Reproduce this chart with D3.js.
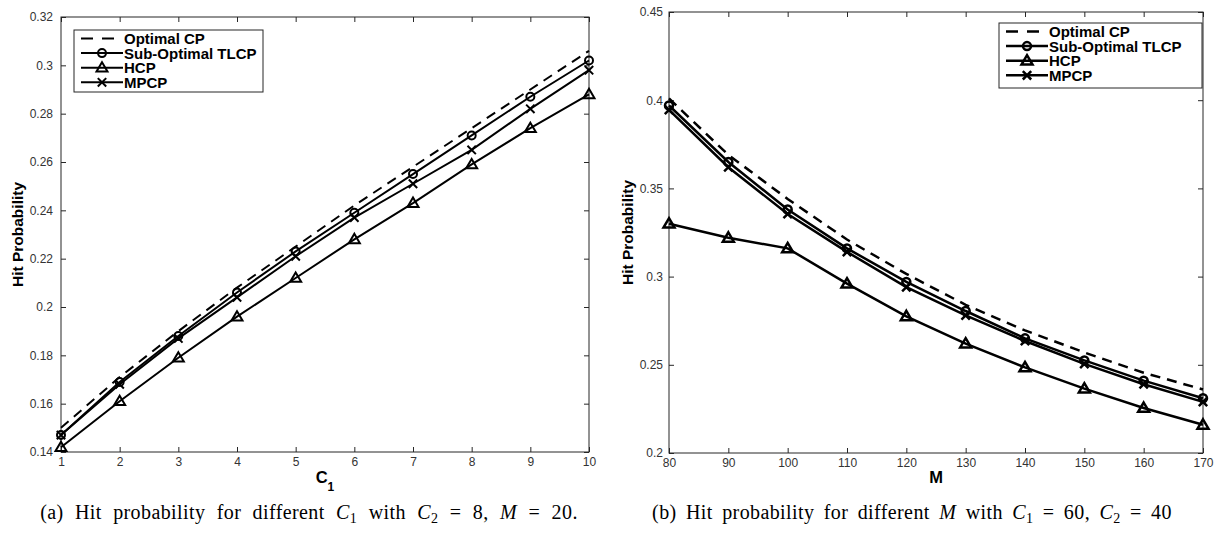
<!DOCTYPE html>
<html>
<head>
<meta charset="utf-8">
<script src="https://cdn.jsdelivr.net/npm/d3@7"></script>
<style>
  body { margin: 0; background: #fff; }
  svg { display: block; }
  .tick text { font-family: "Liberation Sans", Arial, sans-serif; font-size: 12px; fill: #333; }
  .tick line { stroke: #262626; }
  .lab { font-family: "Liberation Sans", Arial, sans-serif; font-weight: bold; fill: #000; }
  .cap { font-family: "Liberation Serif", "Times New Roman", serif; font-size: 20px; fill: #000; letter-spacing: 0.4px; }
</style>
</head>
<body>
<script>
// series names
var seriesNames = ["Optimal CP", "Sub-Optimal TLCP", "HCP", "MPCP"];

// panel (a): C1 = 1..10
var c1Values = [1, 2, 3, 4, 5, 6, 7, 8, 9, 10];
var optimalA = [0.150, 0.171, 0.190, 0.208, 0.225, 0.242, 0.258, 0.274, 0.290, 0.306];
var subOptA  = [0.147, 0.169, 0.188, 0.206, 0.223, 0.239, 0.255, 0.271, 0.287, 0.302];
var hcpA     = [0.142, 0.161, 0.179, 0.196, 0.212, 0.228, 0.243, 0.259, 0.274, 0.288];
var mpcpA    = [0.147, 0.168, 0.187, 0.204, 0.221, 0.237, 0.251, 0.265, 0.282, 0.298];
var yTicksA  = [0.14, 0.16, 0.18, 0.2, 0.22, 0.24, 0.26, 0.28, 0.3, 0.32];

// panel (b): M = 80..170
var mValues  = [80, 90, 100, 110, 120, 130, 140, 150, 160, 170];
var optimalB = [0.401, 0.369, 0.344, 0.321, 0.3015, 0.284, 0.2695, 0.257, 0.2455, 0.236];
var subOptB  = [0.397, 0.365, 0.338, 0.316, 0.297, 0.2805, 0.265, 0.2525, 0.241, 0.231];
var hcpB     = [0.330, 0.322, 0.316, 0.296, 0.2775, 0.262, 0.2485, 0.2365, 0.2255, 0.216];
var mpcpB    = [0.3945, 0.362, 0.3355, 0.314, 0.294, 0.278, 0.2635, 0.2505, 0.239, 0.229];
var yTicksB  = [0.2, 0.25, 0.3, 0.35, 0.4, 0.45];

var svg = d3.select("body").append("svg")
    .attr("width", 1216)
    .attr("height", 533);

var markers = ["none", "circle", "triangle", "cross"];

function drawMarker(g, kind, cx, cy, lw) {
    if (kind == "circle") {
        g.append("circle").attr("cx", cx).attr("cy", cy).attr("r", 4)
            .attr("fill", "none").attr("stroke", "#000").attr("stroke-width", lw);
    } else if (kind == "triangle") {
        var s = 5.5;
        g.append("path")
            .attr("d", "M" + cx + "," + (cy - s) + "L" + (cx + s) + "," + (cy + s * 0.7) + "L" + (cx - s) + "," + (cy + s * 0.7) + "Z")
            .attr("fill", "none").attr("stroke", "#000").attr("stroke-width", lw);
    } else if (kind == "cross") {
        var c = 4.2;
        g.append("path")
            .attr("d", "M" + (cx - c) + "," + (cy - c) + "L" + (cx + c) + "," + (cy + c) + "M" + (cx - c) + "," + (cy + c) + "L" + (cx + c) + "," + (cy - c))
            .attr("fill", "none").attr("stroke", "#000").attr("stroke-width", lw);
    }
}

function drawPanel(p) {
    var x = d3.scaleLinear().domain(p.xDomain).range([p.left, p.right]);
    var y = d3.scaleLinear().domain(p.yDomain).range([p.bottom, p.top]);
    var g = svg.append("g");

    // ticks on all four sides, pointing in (MATLAB box)
    g.append("g").attr("transform", "translate(0," + p.bottom + ")")
        .call(d3.axisBottom(x).tickValues(p.xs).tickSize(-5).tickPadding(5).tickFormat(d3.format("d")))
        .call(a => a.select(".domain").remove());
    g.append("g").attr("transform", "translate(0," + p.top + ")")
        .call(d3.axisTop(x).tickValues(p.xs).tickSize(-5).tickFormat(""))
        .call(a => a.select(".domain").remove());
    g.append("g").attr("transform", "translate(" + p.left + ",0)")
        .call(d3.axisLeft(y).tickValues(p.yTicks).tickSize(-5).tickPadding(p.yPad).tickFormat(d => String(+d.toFixed(2))))
        .call(a => a.select(".domain").remove());
    g.append("g").attr("transform", "translate(" + p.right + ",0)")
        .call(d3.axisRight(y).tickValues(p.yTicks).tickSize(-5).tickFormat(""))
        .call(a => a.select(".domain").remove());

    g.append("rect")
        .attr("x", p.left).attr("y", p.top)
        .attr("width", p.right - p.left).attr("height", p.bottom - p.top)
        .attr("fill", "none").attr("stroke", "#262626").attr("stroke-width", 1);

    var line = d3.line().x((d, i) => x(p.xs[i])).y(d => y(d));
    p.series.forEach(function (s, k) {
        g.append("path").datum(s)
            .attr("d", line)
            .attr("fill", "none")
            .attr("stroke", "#000")
            .attr("stroke-width", p.lw)
            .attr("stroke-dasharray", k == 0 ? "10,7" : null);
        if (markers[k] != "none") {
            s.forEach(function (v, i) { drawMarker(g, markers[k], x(p.xs[i]), y(v), p.lw); });
        }
    });

    // legend
    var lg = p.legend;
    g.append("rect").attr("x", lg.x).attr("y", lg.y).attr("width", lg.w).attr("height", lg.h)
        .attr("fill", "#fff").attr("stroke", "#262626").attr("stroke-width", 1);
    seriesNames.forEach(function (name, k) {
        var ly = lg.y + 8.5 + k * 14.6;
        g.append("line").attr("x1", lg.x + 7).attr("x2", lg.x + 49).attr("y1", ly).attr("y2", ly)
            .attr("stroke", "#000").attr("stroke-width", p.lw)
            .attr("stroke-dasharray", k == 0 ? "12,9" : null);
        drawMarker(g, markers[k], lg.x + 28, ly, p.lw);
        g.append("text").attr("class", "lab").attr("x", lg.x + 50).attr("y", ly).attr("dy", "0.36em")
            .style("font-size", "15px").text(name);
    });

    // axis labels
    g.append("text").attr("class", "lab")
        .attr("transform", "translate(" + p.yLabelX + "," + ((p.top + p.bottom) / 2) + ") rotate(-90)")
        .attr("text-anchor", "middle").style("font-size", "15.5px")
        .text("Hit Probability");
    var xl = g.append("text").attr("class", "lab")
        .attr("x", (p.left + p.right) / 2).attr("y", 483)
        .attr("text-anchor", "middle").style("font-size", "16.5px");
    xl.append("tspan").text(p.xLabel);
    if (p.xSub) xl.append("tspan").attr("dy", 8).style("font-size", "12px").text(p.xSub);

    // caption
    var cap = g.append("text").attr("class", "cap")
        .attr("x", p.capX).attr("y", 519).attr("text-anchor", "middle")
        .style("word-spacing", p.capWs + "px");
    p.caption.forEach(function (part) {
        var t = cap.append("tspan").text(part.t);
        if (part.i) t.style("font-style", "italic");
        if (part.sub) t.attr("dy", 4).style("font-size", "14px");
        if (part.up) t.attr("dy", -4);
    });
}

drawPanel({
    xs: c1Values, xDomain: [1, 10], yDomain: [0.14, 0.32], yTicks: yTicksA, yPad: 8,
    left: 61, right: 589, top: 17, bottom: 452, lw: 2,
    series: [optimalA, subOptA, hcpA, mpcpA],
    legend: { x: 74, y: 30, w: 189, h: 62 },
    yLabelX: 23, xLabel: "C", xSub: "1", capX: 309, capWs: 6,
    caption: [
        { t: "(a) Hit probability for different " }, { t: "C", i: true }, { t: "1", sub: true },
        { t: " with ", up: true }, { t: "C", i: true }, { t: "2", sub: true },
        { t: " = 8, ", up: true }, { t: "M", i: true }, { t: " = 20." }
    ]
});

drawPanel({
    xs: mValues, xDomain: [80, 170], yDomain: [0.2, 0.45], yTicks: yTicksB, yPad: 6,
    left: 669, right: 1203, top: 12, bottom: 453, lw: 2.5,
    series: [optimalB, subOptB, hcpB, mpcpB],
    legend: { x: 999, y: 23, w: 203, h: 65 },
    yLabelX: 633, xLabel: "M", xSub: null, capX: 912, capWs: 4,
    caption: [
        { t: "(b) Hit probability for different " }, { t: "M", i: true },
        { t: " with " }, { t: "C", i: true }, { t: "1", sub: true },
        { t: " = 60, ", up: true }, { t: "C", i: true }, { t: "2", sub: true },
        { t: " = 40", up: true }
    ]
});
</script>
</body>
</html>
